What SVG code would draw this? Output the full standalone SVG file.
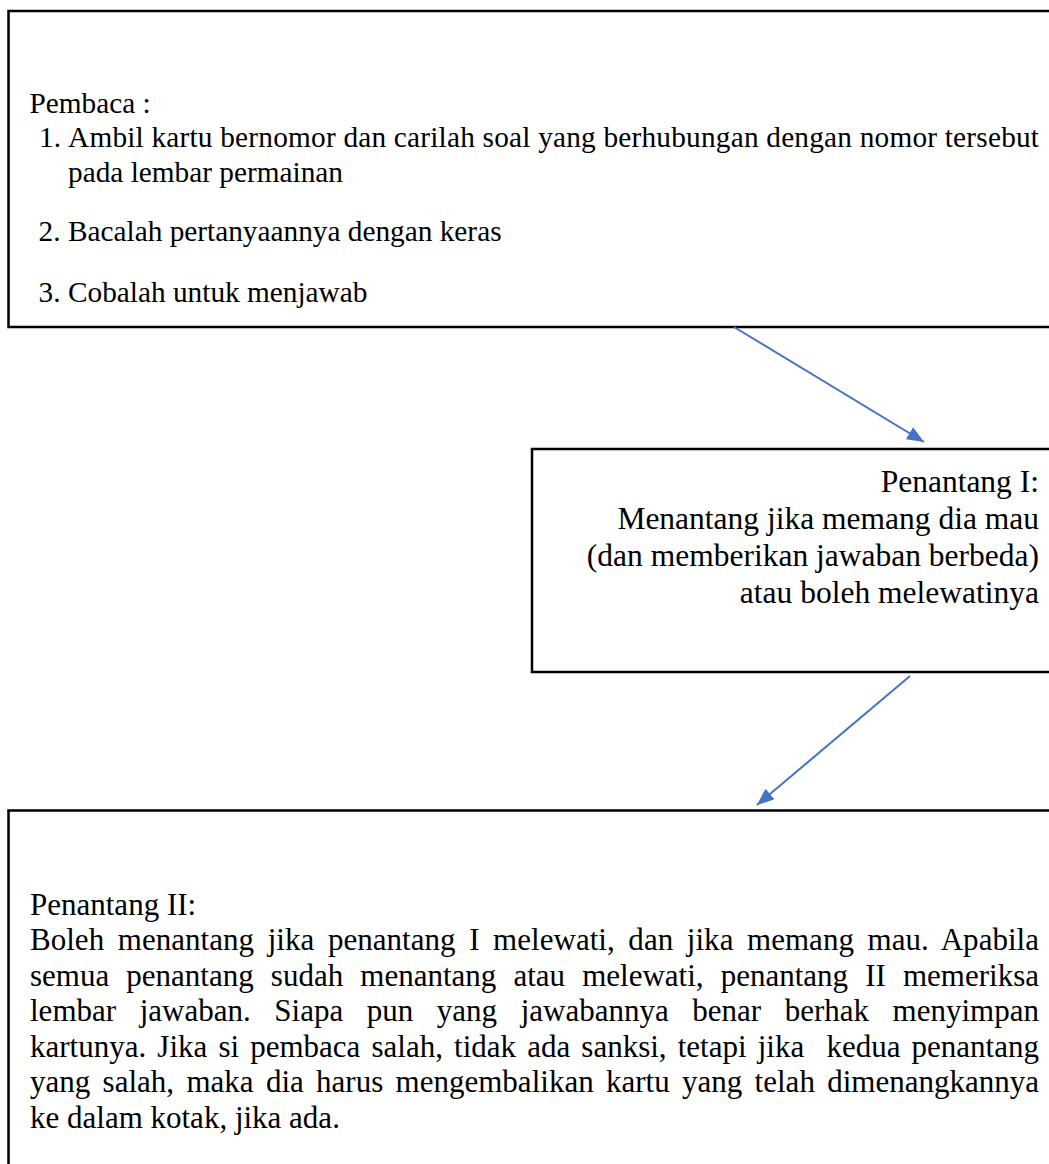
<svg xmlns="http://www.w3.org/2000/svg" width="1049" height="1164" viewBox="0 0 1049 1164">
<style>
.box{fill:#ffffff;stroke:#000000;stroke-width:2.5}
.t{font-family:"Liberation Serif","Times New Roman",serif;fill:#000000}
.top{font-size:29.3px}
.mid{font-size:31.5px;text-anchor:end}
.bot{font-size:31px}
.conn{stroke:#4472C4;stroke-width:2;fill:none}
</style>
<defs>
<marker id="ah" markerUnits="userSpaceOnUse" markerWidth="18" markerHeight="14" refX="17" refY="7" orient="auto">
<path d="M0,0 L17,7 L0,14 z" fill="#4472C4"/>
</marker>
</defs>
<rect width="1049" height="1164" fill="#ffffff"/>
<g id="node-pembaca">
<rect class="box" x="8.5" y="11" width="1050" height="316"/>
<text class="t top" x="29.5" y="112.5">Pembaca :</text>
<text class="t top" x="39" y="146.5">1.</text>
<text class="t top" x="68" y="146.5" textLength="971" lengthAdjust="spacing">Ambil kartu bernomor dan carilah soal yang berhubungan dengan nomor tersebut</text>
<text class="t top" x="68" y="181.5">pada lembar permainan</text>
<text class="t top" x="38.5" y="241">2.</text>
<text class="t top" x="68" y="241">Bacalah pertanyaannya dengan keras</text>
<text class="t top" x="38.5" y="301.5">3.</text>
<text class="t top" x="68" y="301.5">Cobalah untuk menjawab</text>
</g>
<g id="node-penantang1">
<rect class="box" x="532" y="449" width="530" height="223"/>
<text class="t mid" x="1039" y="491.5">Penantang I:</text>
<text class="t mid" x="1039" y="528.5">Menantang jika memang dia mau</text>
<text class="t mid" x="1039" y="565.5">(dan memberikan jawaban berbeda)</text>
<text class="t mid" x="1039" y="602.5">atau boleh melewatinya</text>
</g>
<g id="node-penantang2">
<rect class="box" x="8.5" y="810.5" width="1050" height="370"/>
<text class="t bot" x="30" y="914.5">Penantang II:</text>
<text class="t bot" x="30" y="950" word-spacing="5.85" textLength="1009" lengthAdjust="spacing">Boleh menantang jika penantang I melewati, dan jika memang mau. Apabila</text>
<text class="t bot" x="30" y="985.5" word-spacing="9.36" textLength="1009" lengthAdjust="spacing">semua penantang sudah menantang atau melewati, penantang II memeriksa</text>
<text class="t bot" x="30" y="1021" word-spacing="15.8" textLength="1009" lengthAdjust="spacing">lembar jawaban. Siapa pun yang jawabannya benar berhak menyimpan</text>
<text class="t bot" x="30" y="1056.5" word-spacing="3.37" textLength="1009" lengthAdjust="spacing" xml:space="preserve" style="white-space:pre">kartunya. Jika si pembaca salah, tidak ada sanksi, tetapi jika  kedua penantang</text>
<text class="t bot" x="30" y="1092" word-spacing="4.59" textLength="1009" lengthAdjust="spacing">yang salah, maka dia harus mengembalikan kartu yang telah dimenangkannya</text>
<text class="t bot" x="30" y="1127.5">ke dalam kotak, jika ada.</text>
</g>
<g id="connectors">
<line class="conn" x1="734" y1="327" x2="924" y2="442" marker-end="url(#ah)"/>
<line class="conn" x1="910" y1="676" x2="757" y2="805" marker-end="url(#ah)"/>
</g>
</svg>
